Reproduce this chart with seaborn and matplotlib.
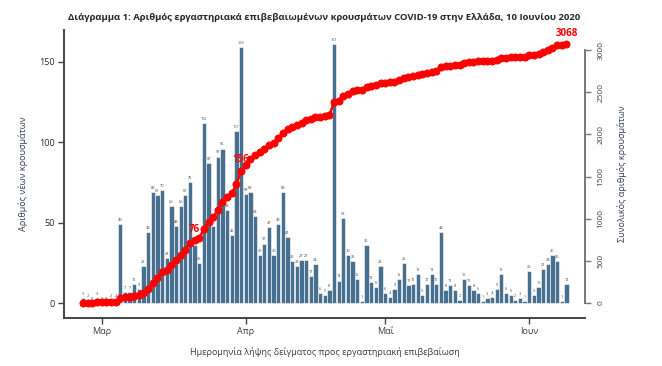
import numpy as np
import pandas as pd
import seaborn as sns
import matplotlib.pyplot as plt

# daily new cases by sampling date, 26 Feb 2020 onwards
new_cases = [3, 2, 0, 3, 0, 0, 2, 2, 49, 7, 7, 12, 9, 23, 44, 69, 67, 70, 28, 60,
             48, 60, 67, 75, 36, 25, 112, 87, 48, 91, 96, 58, 42, 107, 159, 68, 69, 54, 30, 37,
             47, 30, 49, 69, 41, 26, 23, 27, 27, 17, 24, 6, 5, 8, 161, 14, 53, 30, 26, 15,
             1, 36, 13, 10, 23, 6, 4, 9, 15, 25, 11, 12, 18, 5, 12, 18, 12, 44, 8, 11,
             8, 2, 15, 11, 8, 6, 1, 3, 4, 9, 18, 6, 5, 2, 3, 1, 20, 5, 10, 21,
             24, 30, 26, 1, 12]
start_date = "2020-02-26"
month_ticks = ["2020-03-01", "2020-04-01", "2020-05-01", "2020-06-01"]
month_labels = ["Μαρ", "Απρ", "Μαΐ", "Ιουν"]
left_ticks = [0, 50, 100, 150]
right_ticks = [0, 500, 1000, 1500, 2000, 2500, 3000]
# red labels on the cumulative line: (day index, text)
red_label_days = [24, 34, 104]
red_label_texts = ["76", "156", "3068"]

title = "Διάγραμμα 1: Αριθμός εργαστηριακά επιβεβαιωμένων κρουσμάτων COVID-19 στην Ελλάδα, 10 Ιουνίου 2020"
xlab = "Ημερομηνία λήψης δείγματος προς εργαστηριακή επιβεβαίωση"
ylab_left = "Αριθμός νέων κρουσμάτων"
ylab_right = "Συνολικός αριθμός κρουσμάτων"

dates = pd.date_range(start_date, periods=len(new_cases), freq="D")
df = pd.DataFrame({"date": dates.strftime("%Y-%m-%d"), "cases": new_cases})
df["pos"] = np.arange(len(df))
df["cum"] = df["cases"].cumsum()

sns.set_style("ticks")
plt.rcParams["font.family"] = ["Open Sans", "DejaVu Sans"]

fig = plt.figure(figsize=(6.62, 3.66), dpi=100)
ax = fig.add_axes([0.0967, 0.131, 0.787, 0.787])

bar_color = "#476f8f"
sns.barplot(data=df, x="date", y="cases", color=bar_color, width=0.92,
            edgecolor="white", linewidth=0.4, saturation=1, ax=ax)
ax.bar_label(ax.containers[0], fontsize=2.8, color="#444444", padding=1.5)

ax.set_ylim(-9.3, 169.6)
ax.set_xlim(-4.1, 108)
ax.set_yticks(left_ticks)
ax.set_yticklabels([str(t) for t in left_ticks], fontsize=6.5)
tick_pos = [df.index[df["date"] == d][0] for d in month_ticks]
ax.set_xticks(tick_pos)
ax.set_xticklabels(month_labels, fontsize=6.5, color="#3a3a3a")
ax.set_xlabel(xlab, fontsize=6.5, color="#3a3a3a", labelpad=8)
ax.set_ylabel(ylab_left, fontsize=6.5, color="#2f3b55", labelpad=8)
ax.tick_params(axis="both", length=4, width=1, color="#444444", pad=2.5)
for s in ["top", "right"]:
    ax.spines[s].set_visible(False)
for s in ["left", "bottom"]:
    ax.spines[s].set_color("#444444")
    ax.spines[s].set_linewidth(1.4)

# cumulative on the right axis
ax2 = ax.twinx()
sns.lineplot(x=df["pos"], y=df["cum"], color="red", marker="o", markersize=5,
             markeredgecolor="red", linewidth=1.8, ax=ax2)
ax2.set_ylim(-178, 3238)
ax2.set_yticks(right_ticks)
ax2.set_yticklabels([str(t) for t in right_ticks], fontsize=6, rotation=90,
                    va="center", color="#444444")
ax2.spines["right"].set_bounds(0, 3000)
ax2.spines["right"].set_color("#777777")
ax2.spines["right"].set_linewidth(1.4)
for s in ["top", "left", "bottom"]:
    ax2.spines[s].set_visible(False)
ax2.tick_params(axis="y", length=4, width=1, color="#777777", pad=5)
ax2.set_ylabel(ylab_right, fontsize=6.5, color="#2f3b55", labelpad=9)

for d, txt in zip(red_label_days, red_label_texts):
    ax2.annotate(txt, xy=(df["pos"][d], df["cum"][d]), xytext=(0, 4),
                 textcoords="offset points", ha="center", va="bottom",
                 color="red", fontsize=7, fontweight="bold")

fig.suptitle(title, x=0.49, y=0.965, fontsize=6.8, fontweight="bold")
fig.savefig("out.png", dpi=100)
